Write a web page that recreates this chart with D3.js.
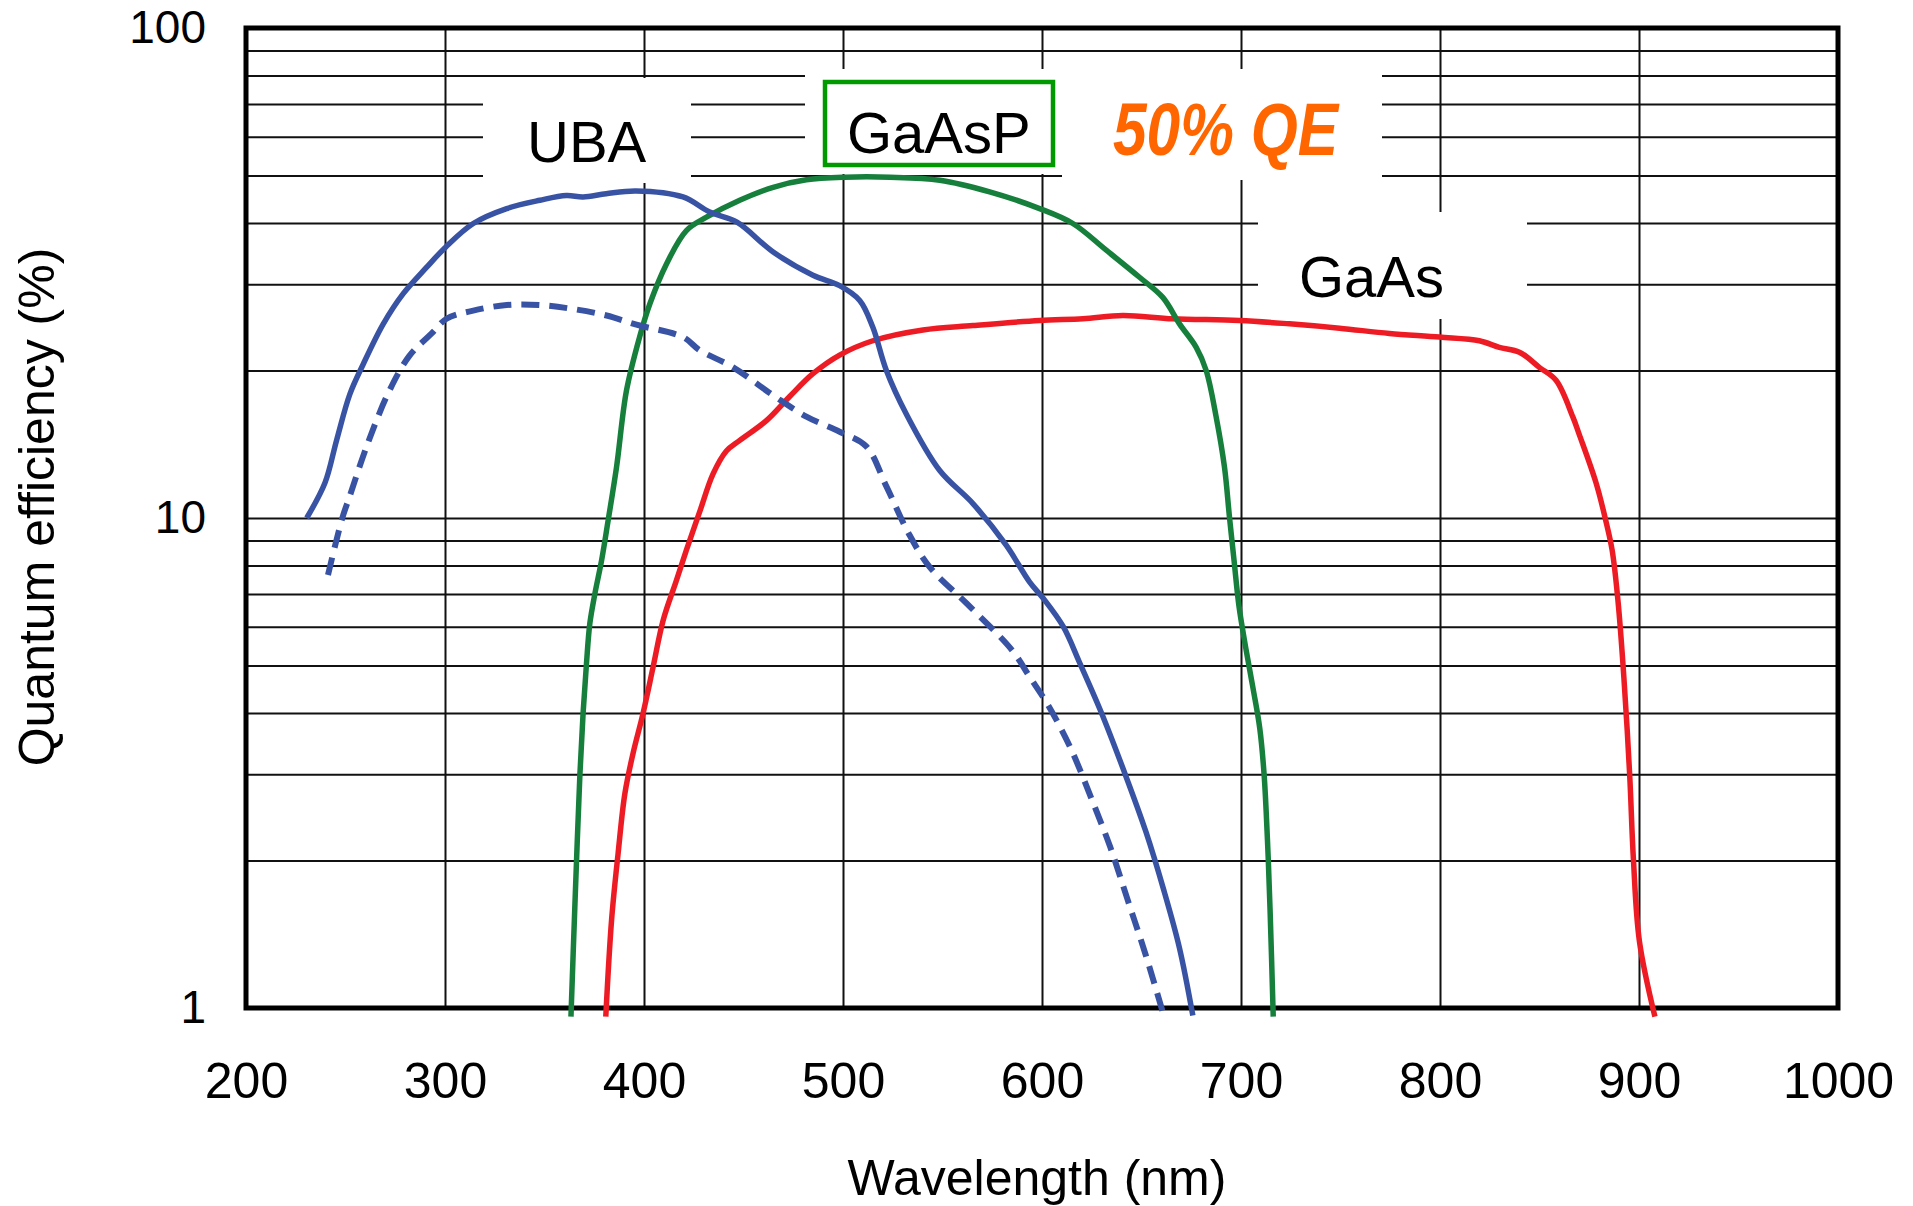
<!DOCTYPE html>
<html><head><meta charset="utf-8">
<script src="https://cdn.jsdelivr.net/npm/d3@7"></script>
<style>
html,body{margin:0;padding:0;background:#fff;}
svg{display:block;font-family:"Liberation Sans",Arial,Helvetica,sans-serif;}
</style></head><body>
<svg id="chart" width="1913" height="1206"></svg>
<script>
// ---------- data (wavelength nm, quantum efficiency %) ----------
const xTickValues = [200, 300, 400, 500, 600, 700, 800, 900, 1000];
const yLabelValues = [1, 10, 100];
const yGridValues = [2, 3, 4, 5, 6, 7, 8, 9, 10, 20, 30, 40, 50, 60, 70, 80, 90];

const ubaSolid = [
  [230.5,10.0],[239.7,11.8],[245.5,14.4],[252.2,17.9],[258.9,20.6],[269,24.9],[279,28.7],
  [290.8,32.5],[300.3,35.7],[314.2,39.9],[331,42.8],[347.7,44.5],[361,45.5],[369.4,45.2],
  [381,45.9],[396,46.5],[419.6,45.2],[433,42.1],[446.5,40.2],[464.9,34.9],[484.9,31.3],
  [498.3,29.8],[508.4,27.8],[515,24.5],[521.8,20.0],[531.8,16.3],[548.6,12.5],[565.3,10.7],
  [582,8.8],[593.8,7.4],[600.7,6.85],[610.7,6.0],[618.6,5.1],[629.8,4.01],[641,3.06],
  [652.2,2.29],[661.2,1.74],[669,1.33],[675.8,0.965]
];
const ubaDashed = [
  [241.2,7.65],[248.4,10.0],[252.2,11.1],[260.9,14.1],[271.8,18.1],[282,21.4],[293.3,23.8],
  [300.8,25.5],[314.2,26.5],[331,27.2],[347.7,27.2],[364.4,26.7],[381.2,25.9],[396.2,24.8],
  [419.6,23.4],[428,22.0],[444.8,20.3],[464.9,17.8],[481.6,16.1],[498.3,15.0],[511.7,14.0],
  [521.8,11.6],[533,9.3],[543.5,7.95],[562,6.7],[585,5.37],[593.8,4.74],[602.9,4.16],
  [614.1,3.41],[625.4,2.64],[634.3,2.13],[643.3,1.65],[652.2,1.28],[661.2,0.965]
];
const gaasp = [
  [363.3,0.96],[364.4,1.29],[366.1,2.0],[367.8,3.0],[369.4,4.0],[371.1,5.05],[372.8,6.1],
  [375.3,7.0],[378.7,8.2],[382,9.9],[386.2,12.7],[391.2,18.2],[397.9,23.5],[403,27.4],
  [411.3,33.0],[421.3,38.6],[431.4,41.1],[448.1,44.5],[464.9,47.3],[481.6,49.0],[500.9,49.6],
  [523.5,49.6],[548.6,48.9],[573.7,46.3],[598.8,42.8],[615.5,39.9],[632.3,35.2],[649,31.0],
  [660.7,28.2],[669.1,24.9],[677.5,22.3],[682.5,20.0],[687.5,16.1],[691.7,12.7],[694.2,10.05],
  [696.5,8.2],[699,6.6],[702.5,5.4],[706.1,4.48],[709.4,3.73],[711.6,3.0],[713.3,2.2],
  [714.6,1.59],[716.2,0.96]
];
const gaas = [
  [380.8,0.96],[383.7,1.51],[387,2.07],[390.4,2.74],[394.5,3.31],[399.5,3.99],[404.6,4.97],
  [409.6,6.18],[416.3,7.46],[421.3,8.6],[428,10.3],[434.7,12.3],[441.4,13.7],[448.1,14.4],
  [461.5,15.8],[473.2,17.7],[484.9,19.7],[498.3,21.5],[515,23.0],[540.2,24.2],[565.3,24.7],
  [598.8,25.3],[620.6,25.5],[640.6,25.9],[665.7,25.5],[699.2,25.3],[724.3,24.9],[749.5,24.4],
  [774.6,23.8],[799.7,23.4],[819.8,23.0],[829.8,22.3],[839.9,21.8],[849.9,20.3],[858.3,19.1],
  [866.7,16.1],[870,14.8],[878.4,11.8],[883,10.0],[886.5,8.6],[889.4,6.8],[892.4,4.73],
  [895.3,3.0],[897.2,2.01],[900.2,1.37],[908,0.96]
];

// ---------- layout ----------
const svg = d3.select("#chart");
const m = {left: 246, right: 1838, top: 28, bottom: 1008};
const x = d3.scaleLinear().domain([200, 1000]).range([m.left, m.right]);
const y = d3.scaleLog().domain([1, 100]).range([m.bottom, m.top]);

// gridlines
const gh = svg.append("g").attr("transform", `translate(${m.left},0)`)
  .call(d3.axisLeft(y).tickValues(yGridValues).tickSize(-(m.right - m.left)).tickFormat(""));
gh.select(".domain").remove();
gh.selectAll("line").attr("stroke", "#111").attr("stroke-width", 2);

const gv = svg.append("g").attr("transform", `translate(0,${m.bottom})`)
  .call(d3.axisBottom(x).tickValues(xTickValues.slice(1, -1)).tickSize(-(m.bottom - m.top)).tickFormat(""));
gv.select(".domain").remove();
gv.selectAll("line").attr("stroke", "#111").attr("stroke-width", 2);

// white label backgrounds (cover the grid)
const masks = [
  [483, 78, 208, 105],
  [805, 69, 257, 105],
  [1062, 69, 320, 111],
  [1258, 212, 269, 107]
];
svg.append("g").selectAll("rect").data(masks).join("rect")
  .attr("x", d => d[0]).attr("y", d => d[1]).attr("width", d => d[2]).attr("height", d => d[3])
  .attr("fill", "#fff");

// frame
svg.append("rect").attr("x", m.left).attr("y", m.top)
  .attr("width", m.right - m.left).attr("height", m.bottom - m.top)
  .attr("fill", "none").attr("stroke", "#000").attr("stroke-width", 5);

// tick labels
const ax = svg.append("g").attr("transform", `translate(0,${m.bottom})`)
  .call(d3.axisBottom(x).tickValues(xTickValues).tickSize(0).tickPadding(54).tickFormat(d3.format("d")));
ax.select(".domain").remove();
ax.selectAll("text").attr("font-size", 50).attr("fill", "#000")
  .attr("font-family", "Liberation Sans, Arial, sans-serif");

const ay = svg.append("g").attr("transform", `translate(${m.left},0)`)
  .call(d3.axisLeft(y).tickValues(yLabelValues).tickSize(0).tickPadding(40).tickFormat(d3.format("d")));
ay.select(".domain").remove();
ay.selectAll("text").attr("font-size", 46).attr("fill", "#000")
  .attr("font-family", "Liberation Sans, Arial, sans-serif");

// axis titles
svg.append("text").attr("x", 1037).attr("y", 1195).attr("text-anchor", "middle")
  .attr("font-size", 50).attr("fill", "#000").text("Wavelength (nm)");
svg.append("text").attr("transform", "translate(54,507) rotate(-90)").attr("text-anchor", "middle")
  .attr("font-size", 50).attr("fill", "#000").text("Quantum efficiency (%)");

// curves
const line = d3.line().x(d => x(d[0])).y(d => y(d[1])).curve(d3.curveCatmullRom.alpha(0.5));
svg.append("path").datum(gaas).attr("d", line).attr("fill", "none")
  .attr("stroke", "#ED1C24").attr("stroke-width", 5.5).attr("stroke-linejoin", "round");
svg.append("path").datum(gaasp).attr("d", line).attr("fill", "none")
  .attr("stroke", "#167F3C").attr("stroke-width", 5.5).attr("stroke-linejoin", "round");
svg.append("path").datum(ubaDashed).attr("d", line).attr("fill", "none")
  .attr("stroke", "#3953A4").attr("stroke-width", 6).attr("stroke-dasharray", "18,10");
svg.append("path").datum(ubaSolid).attr("d", line).attr("fill", "none")
  .attr("stroke", "#3953A4").attr("stroke-width", 5.5).attr("stroke-linejoin", "round");

// annotations
svg.append("rect").attr("x", 825).attr("y", 82).attr("width", 228).attr("height", 83)
  .attr("fill", "none").attr("stroke", "#009A00").attr("stroke-width", 4.5);
svg.append("text").attr("x", 527).attr("y", 162).attr("font-size", 58).attr("fill", "#000").text("UBA");
svg.append("text").attr("x", 847).attr("y", 153).attr("font-size", 58).attr("fill", "#000").text("GaAsP");
svg.append("text").attr("x", 1299).attr("y", 297).attr("font-size", 58).attr("fill", "#000").text("GaAs");
svg.append("text").attr("x", 1113).attr("y", 155)
  .attr("font-family", "'Liberation Sans Narrow','Arial Narrow','Liberation Sans',Arial,sans-serif")
  .attr("font-size", 74).attr("font-weight", "bold").attr("font-style", "italic")
  .attr("fill", "#FF6600").attr("textLength", 225).attr("lengthAdjust", "spacingAndGlyphs")
  .text("50% QE");
</script>
</body></html>
